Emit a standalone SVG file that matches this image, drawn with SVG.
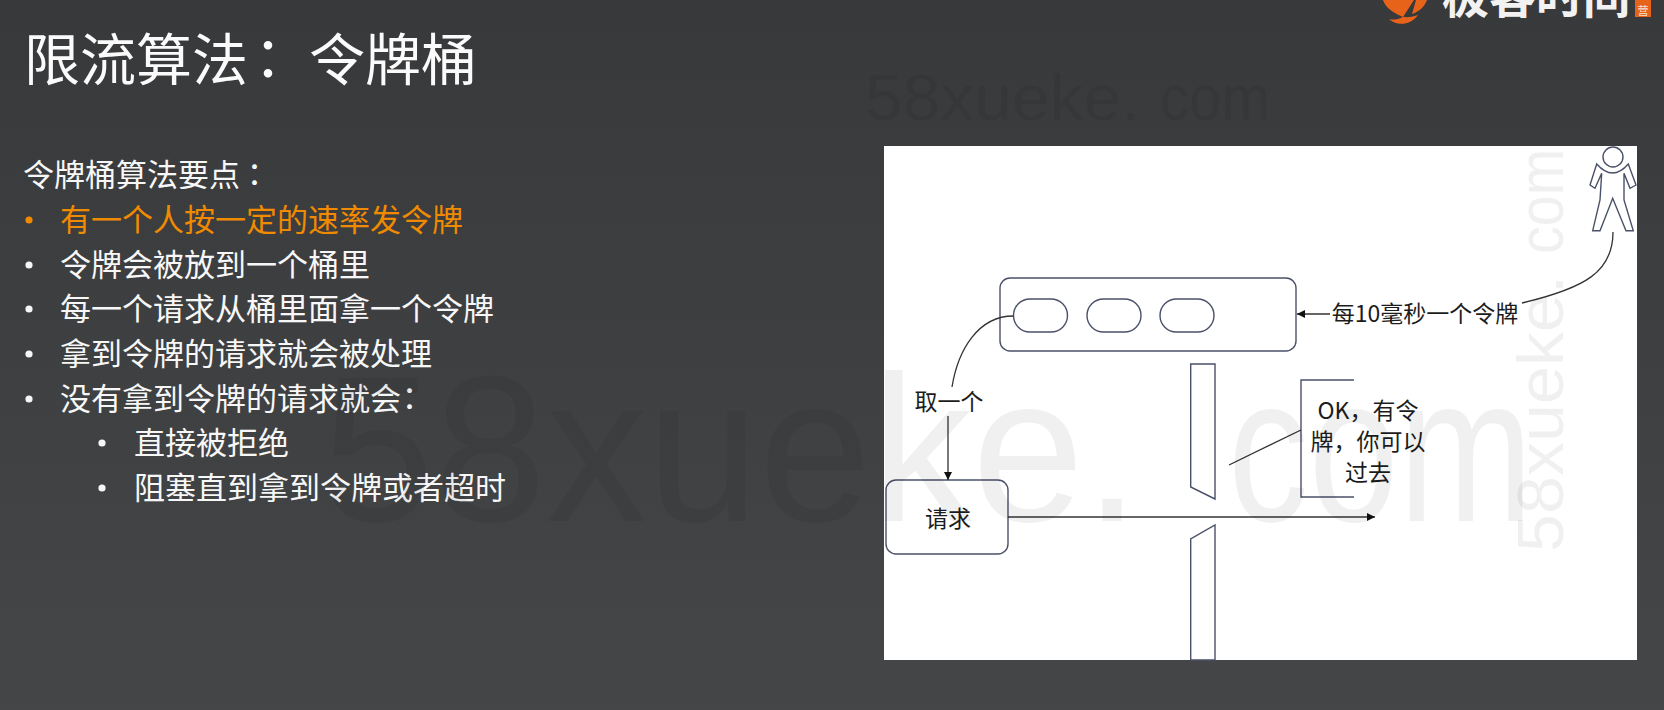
<svg xmlns="http://www.w3.org/2000/svg" width="1664" height="710" viewBox="0 0 1664 710">
<style>
text{font-family:"Noto Sans CJK SC","Noto Sans",sans-serif}
.b{font-size:31px;fill:#f7f7f7}
.o{font-size:31px;fill:#f08a00}
.f{font-family:"Noto Sans CJK TC","Noto Sans",sans-serif}
.l{font-size:23px;fill:#1c1c1c;text-anchor:middle}
.s{fill:#fff;stroke:#4a5068;stroke-width:1.4}
.c{fill:none;stroke:#333;stroke-width:1.3}
.w{font-family:"Liberation Sans",sans-serif;fill:#000;fill-opacity:.06}
</style>
<defs>
<linearGradient id="bg" x1="0" y1="0" x2="0" y2="1"><stop offset="0" stop-color="#38393b"/><stop offset="1" stop-color="#454648"/></linearGradient>
<marker id="a" markerWidth="10" markerHeight="10" refX="8" refY="4" orient="auto" markerUnits="userSpaceOnUse"><path d="M0,0 L8,4 L0,8 Z" fill="#111"/></marker>
</defs>
<rect width="1664" height="710" fill="url(#bg)"/>
<g id="logo">
<path d="M1383,0 C1388,10 1396,14 1403,17 C1397,20 1393,20 1389,19 C1396,26 1410,26 1418,15 C1410,18 1406,17 1403,17 L1414,0 Z" fill="#e8631a"/>
<path d="M1383,0 H1427 C1424,8 1418,12 1412,14 L1416,0 H1396 L1400,14 C1392,12 1386,8 1383,0 Z" fill="#e8631a"/>
<text x="1442" y="13" font-size="47" font-weight="700" fill="#f2f2f2">极客时间</text>
<rect x="1635" width="16" height="17" fill="#e8631a"/>
<text x="1643" y="15" font-size="11" fill="#f6e3d6" text-anchor="middle">营</text>
</g>
<g id="title"><text y="80" font-size="56" fill="#fbfbfb"><tspan x="24">限流算法</tspan><tspan class="f" x="240">&#xFF1A;</tspan><tspan x="309">令牌桶</tspan></text></g>
<g id="points">
<text class="b" x="23" y="186">令牌桶算法要点<tspan class="f" dx="-1">&#xFF1A;</tspan></text>
<circle cx="29" cy="220" r="3.6" fill="#f08a00"/><text class="o" x="60" y="231">有一个人按一定的速率发令牌</text>
<circle cx="29" cy="265" r="3.6" fill="#f7f7f7"/><text class="b" x="60" y="276">令牌会被放到一个桶里</text>
<circle cx="29" cy="309" r="3.6" fill="#f7f7f7"/><text class="b" x="60" y="320">每一个请求从桶里面拿一个令牌</text>
<circle cx="29" cy="354" r="3.6" fill="#f7f7f7"/><text class="b" x="60" y="365">拿到令牌的请求就会被处理</text>
<circle cx="29" cy="399" r="3.6" fill="#f7f7f7"/><text class="b" x="60" y="410">没有拿到令牌的请求就会<tspan class="f" dx="-7">&#xFF1A;</tspan></text>
<circle cx="102" cy="443" r="3.6" fill="#f7f7f7"/><text class="b" x="134" y="454">直接被拒绝</text>
<circle cx="102" cy="488" r="3.6" fill="#f7f7f7"/><text class="b" x="134" y="499">阻塞直到拿到令牌或者超时</text>
</g>
<rect id="panel" x="884" y="146" width="753" height="514" fill="#fff"/>
<g id="person">
<circle class="s" cx="1613" cy="157" r="10"/>
<path class="s" d="M1596.7,164 L1590,185 L1595,188.3 L1601.7,173.3 L1600,200 L1592.7,230.7 H1600 L1612.7,198.3 L1626,230.7 H1633.3 L1624,200 L1624,173.3 L1630,188.3 L1636,185 L1628.3,164 Q1612.7,182 1596.7,164 Z"/>
</g>
<g id="bucket">
<rect class="s" x="1000" y="278" width="296" height="73" rx="10"/>
<rect class="s" x="1013.5" y="299" width="54" height="33" rx="16.5"/>
<rect class="s" x="1087" y="299" width="54" height="33" rx="16.5"/>
<rect class="s" x="1160" y="299" width="54" height="33" rx="16.5"/>
</g>
<g id="rate-label"><text class="l" x="1425" y="322">每10毫秒一个令牌</text></g>
<g id="take-label"><text class="l" x="949" y="410">取一个</text></g>
<g id="request">
<rect class="s" x="886" y="480" width="122" height="74" rx="10"/>
<text class="l" x="948" y="527">请求</text>
</g>
<g id="gate-top"><path class="s" d="M1190.7,364 H1215 V499 L1190.7,487 Z"/></g>
<g id="gate-bottom"><path class="s" d="M1215,525 V660 H1190.7 V539 Z"/></g>
<g id="note">
<path class="s" style="fill:none" d="M1354,380 H1301 V497 H1354"/>
<text class="l" x="1368" y="419">OK&#xFF0C;有令</text>
<text class="l" x="1368" y="450">牌&#xFF0C;你可以</text>
<text class="l" x="1368" y="481">过去</text>
</g>
<g id="connectors">
<path class="c" d="M1613,232 C1613,272 1585,288 1522,303"/>
<path class="c" d="M1330,314 H1297" marker-end="url(#a)"/>
<path class="c" d="M1013.5,316 C978,316 958,350 952,387"/>
<path class="c" d="M948,416 V480" marker-end="url(#a)"/>
<path class="c" d="M1008,517 H1375" marker-end="url(#a)"/>
<path class="c" d="M1229,465 L1301,430"/>
</g>
<g id="watermark">
<text class="w" x="322" y="521" font-size="208" textLength="818" lengthAdjust="spacingAndGlyphs">58xueke.</text>
<text class="w" x="1228" y="521" font-size="208" textLength="305" lengthAdjust="spacingAndGlyphs">com</text>
<text class="w" x="865" y="120" font-size="65" textLength="275" lengthAdjust="spacingAndGlyphs">58xueke.</text>
<text class="w" x="1160" y="120" font-size="65" textLength="110" lengthAdjust="spacingAndGlyphs">com</text>
<text class="w" transform="translate(1563 552) rotate(-90)" font-size="65" textLength="277" lengthAdjust="spacingAndGlyphs">58xueke.</text>
<text class="w" transform="translate(1563 254) rotate(-90)" font-size="65" textLength="105" lengthAdjust="spacingAndGlyphs">com</text>
</g>
</svg>
